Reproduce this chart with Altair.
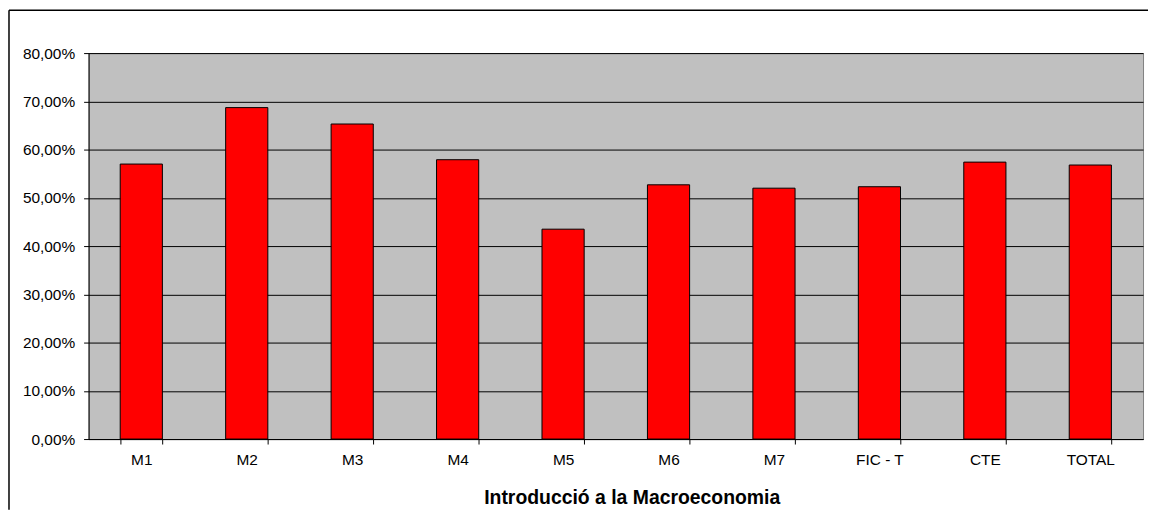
import altair as alt
import pandas as pd

categories = ["M1", "M2", "M3", "M4", "M5", "M6", "M7", "FIC - T", "CTE", "TOTAL"]
values = [0.570, 0.687, 0.653, 0.579, 0.435, 0.527, 0.520, 0.523, 0.574, 0.568]
y_ticks = [0.0, 0.1, 0.2, 0.3, 0.4, 0.5, 0.6, 0.7, 0.8]
x_title = "Introducció a la Macroeconomia"

df = pd.DataFrame({"cat": categories, "val": values})
FONT = "Liberation Sans"

bars = alt.Chart(df).mark_bar(color="#FF0000", stroke="#000000", strokeWidth=1).encode(
    x=alt.X(
        "cat:N",
        sort=categories,
        scale=alt.Scale(paddingInner=0.6, paddingOuter=0.3),
        axis=alt.Axis(
            title=x_title,
            labelAngle=0,
            tickBand="extent",
            tickSize=5,
            tickColor="#000000",
            domainColor="#000000",
            labelPadding=9,
            labelFont=FONT,
            labelFontSize=15.5,
            labelColor="#000000",
            titleFont=FONT,
            titleFontSize=19.5,
            titleFontWeight="bold",
            titleColor="#000000",
            titlePadding=20,
            titleX=546,
            titleAlign="center",
        ),
    ),
    y=alt.Y(
        "val:Q",
        scale=alt.Scale(domain=[0, 0.8], nice=False),
        axis=alt.Axis(
            title=None,
            values=y_ticks,
            labelExpr="replace(format(datum.value, '.2%'), '.', ',')",
            grid=True,
            gridColor="#000000",
            gridWidth=1,
            tickSize=5,
            tickColor="#000000",
            domainColor="#000000",
            labelPadding=9,
            labelFont=FONT,
            labelFontSize=15.5,
            labelColor="#000000",
        ),
    ),
)

dummy = alt.Data(values=[{"a": 1}])
top_border = alt.Chart(dummy).mark_rule(color="#000000", strokeWidth=1.5).encode(
    x=alt.value(-80), x2=alt.value(1065), y=alt.value(-43)
)
left_border = alt.Chart(dummy).mark_rule(color="#000000", strokeWidth=1.5).encode(
    x=alt.value(-80), y=alt.value(-43), y2=alt.value(459)
)

chart = alt.layer(bars, top_border, left_border).properties(
    width=1060,
    height=388,
    padding={"left": 0, "top": 0, "right": 0, "bottom": 0},
    background="#FFFFFF",
).configure_view(
    fill="#C0C0C0", stroke="#808080", strokeWidth=1
)

chart.save("out.html", embed_options={"renderer": "svg", "actions": False})
